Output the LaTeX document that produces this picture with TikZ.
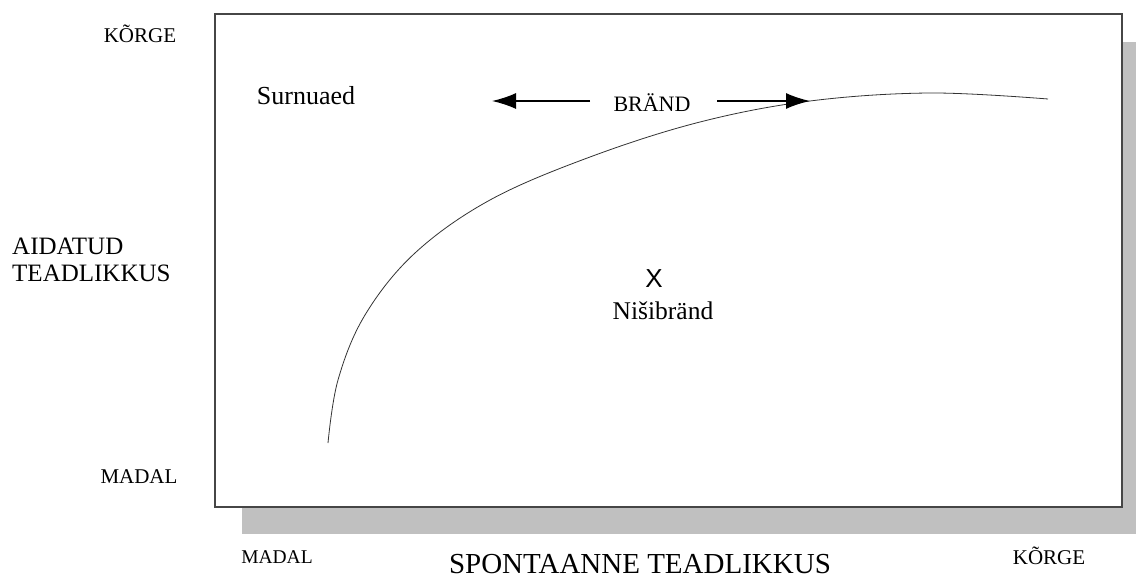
\documentclass[tikz,border=0pt]{standalone}
\usepackage{fontspec}
\setmainfont{Liberation Serif}
\newfontfamily\xfont{Liberation Sans}
\usetikzlibrary{arrows.meta}
\definecolor{shadowgray}{RGB}{192,192,192}
\definecolor{framegray}{RGB}{70,70,70}

\begin{document}
\begin{tikzpicture}[
    x=1pt, y=-1pt,
    axislabel/.style={inner sep=0pt, font=\fontsize{21}{23}\selectfont},
    fieldlabel/.style={inner sep=0pt, font=\fontsize{25.5}{28}\selectfont},
    arrow/.style={-{Latex[length=24pt, width=16pt]}, line width=1.5pt}
]
\useasboundingbox (0,0) rectangle (1136,580);

% Frame with shadow
\fill[shadowgray] (242,42) rectangle (1149,534);
\draw[framegray, fill=white, line width=1.5pt] (215,14) rectangle (1122,507);

% Vertical axis
\node[axislabel] (high_y) at (140,34) {KÕRGE};
\node[axislabel, anchor=west, align=left, font=\fontsize{25}{27}\selectfont] (aided) at (12,260) {AIDATUD\\TEADLIKKUS};
\node[axislabel] (low_y) at (139,477) {MADAL};

% Horizontal axis
\node[axislabel, font=\fontsize{19.5}{21}\selectfont] (low_x) at (277,557) {MADAL};
\node[axislabel, anchor=base, font=\fontsize{29}{31}\selectfont] (spontaneous) at (640,573) {SPONTAANNE TEADLIKKUS};
\node[axislabel] (high_x) at (1049,556) {KÕRGE};

% Curve
\draw[line width=0.8pt, black!80] plot[smooth, tension=0.6] coordinates
    {(328,443) (338,380) (365,315) (415,253) (490,200) (590,157) (700,122) (810,101) (930,93) (1048,99)};

% Brand field
\node[fieldlabel, font=\fontsize{26}{28}\selectfont] (graveyard) at (306,96) {Surnuaed};
\node[axislabel, font=\fontsize{22}{24}\selectfont] (brand) at (652,103) {BRÄND};
\coordinate (brand_left_start) at (590,101);
\coordinate (brand_left) at (492,101);
\coordinate (brand_right_start) at (717,101);
\coordinate (brand_right) at (810,101);
\draw[arrow] (brand_left_start) -- (brand_left);
\draw[arrow] (brand_right_start) -- (brand_right);

% Niche brand
\node[inner sep=0pt, font=\xfont\fontsize{26}{28}\selectfont] (cross) at (654,279) {X};
\node[fieldlabel] (niche) at (663,311) {Nišibränd};

\end{tikzpicture}
\end{document}
